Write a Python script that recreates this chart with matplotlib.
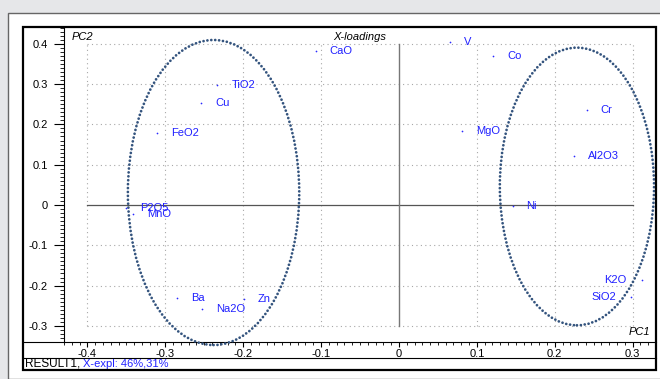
import numpy as np
import matplotlib.pyplot as plt
from matplotlib.patches import Ellipse, Rectangle
from matplotlib.lines import Line2D
from matplotlib.ticker import MultipleLocator

plt.rcParams['font.family'] = ['Liberation Sans', 'DejaVu Sans']

# loadings
names = ['TiO2', 'Cu', 'FeO2', 'CaO', 'V', 'Co', 'Cr', 'MgO', 'Al2O3', 'Ni',
         'K2O', 'SiO2', 'P2O5', 'MnO', 'Ba', 'Na2O', 'Zn']
pc1 = [-0.233, -0.254, -0.310, -0.107, 0.065, 0.121, 0.241, 0.081, 0.225, 0.146,
       0.312, 0.298, -0.350, -0.341, -0.285, -0.253, -0.199]
pc2 = [0.298, 0.254, 0.179, 0.382, 0.405, 0.370, 0.236, 0.184, 0.122, -0.003,
       -0.186, -0.229, -0.008, -0.022, -0.232, -0.258, -0.234]
left_side = ['K2O', 'SiO2']

x_ticks = [-0.4, -0.3, -0.2, -0.1, 0, 0.1, 0.2, 0.3]
y_ticks = [-0.3, -0.2, -0.1, 0, 0.1, 0.2, 0.3, 0.4]

# groups (center x, center y, width, height)
groups = [(-0.238, 0.031, 0.220, 0.757), (0.2285, 0.046, 0.198, 0.689)]

W, H = 660, 379
fig = plt.figure(figsize=(6.6, 3.79), dpi=100)
fig.patch.set_facecolor('#e6e7e9')

def fx(px):
    return px / W

def fy(py):
    return 1 - py / H

# white panel and frame
fig.add_artist(Rectangle((fx(8), 0), 1, fy(13), transform=fig.transFigure,
                         facecolor='white', edgecolor='#666666', lw=1, zorder=-5))
fig.add_artist(Rectangle((fx(23), fy(370)), fx(656) - fx(23), fy(27) - fy(370),
                         transform=fig.transFigure, facecolor='none',
                         edgecolor='black', lw=1.6, zorder=5))
fig.add_artist(Line2D([fx(23), fx(656)], [fy(358), fy(358)], transform=fig.transFigure,
                      color='black', lw=0.8))
fig.add_artist(Line2D([fx(23), fx(64)], [fy(342), fy(342)], transform=fig.transFigure,
                      color='black', lw=0.8))

ax = fig.add_axes([fx(64), fy(342), fx(656) - fx(64), fy(27) - fy(342)])
ax.set_facecolor('white')
ax.set_xlim(-0.43, 0.33)
ax.set_ylim(-0.34, 0.4417)
for s in ['top', 'right']:
    ax.spines[s].set_visible(False)
for s in ['left', 'bottom']:
    ax.spines[s].set_linewidth(0.8)

ax.set_xticks(x_ticks)
ax.set_xticklabels([('%g' % v) if v != 0 else '0' for v in x_ticks])
ax.set_yticks(y_ticks)
ax.set_yticklabels([('%g' % v) if v != 0 else '0' for v in y_ticks])
ax.xaxis.set_minor_locator(MultipleLocator(0.01))
ax.yaxis.set_minor_locator(MultipleLocator(0.01))
ax.tick_params(axis='y', which='major', length=7.5, width=0.8, pad=4, labelsize=8)
ax.tick_params(axis='y', which='minor', length=3, width=0.6)
ax.tick_params(axis='x', which='major', length=3.5, width=0.8, pad=1.5, labelsize=8)
ax.tick_params(axis='x', which='minor', length=1.8, width=0.6)

# grid restricted to the tick range
for v in x_ticks:
    if v != 0:
        ax.plot([v, v], [y_ticks[0], y_ticks[-1]], color='#a8a8a8', lw=0.8,
                ls=(0, (1, 3)), zorder=1)
for v in y_ticks:
    if v != 0:
        ax.plot([x_ticks[0], x_ticks[-1]], [v, v], color='#a8a8a8', lw=0.8,
                ls=(0, (1, 3)), zorder=1)
ax.plot([x_ticks[0], x_ticks[-1]], [0, 0], color='#555555', lw=0.9, zorder=2)
ax.plot([0, 0], [y_ticks[0], y_ticks[-1]], color='#777777', lw=1.0, zorder=2)

for cx, cy, w, h in groups:
    ax.add_patch(Ellipse((cx, cy), w, h, facecolor='none', edgecolor='#34547e',
                         lw=2.0, linestyle=(0, (0.01, 1.4)), capstyle='round',
                         clip_on=False, zorder=3))

ax.scatter(pc1, pc2, s=1.5, color='#2a2aff', zorder=4, linewidths=0)
for n, x, y in zip(names, pc1, pc2):
    if n in left_side:
        ax.annotate(n, (x, y), xytext=(-11, 0), textcoords='offset points',
                    ha='right', va='center', fontsize=8, color='#2020ff')
    else:
        ax.annotate(n, (x, y), xytext=(10, 0), textcoords='offset points',
                    ha='left', va='center', fontsize=8, color='#2020ff')

ax.text(0.0135, 0.985, 'PC2', transform=ax.transAxes, style='italic',
        fontsize=8, ha='left', va='top')
ax.text(0.5, 0.985, 'X-loadings', transform=ax.transAxes, style='italic',
        fontsize=8, ha='center', va='top')
ax.text(0.99, 0.015, 'PC1', transform=ax.transAxes, style='italic',
        fontsize=8, ha='right', va='bottom')

t = fig.text(fx(25), fy(364), 'RESULT1,', fontsize=8.5, ha='left', va='center')
fig.canvas.draw()
bb = t.get_window_extent()
fig.text(bb.x1 / W + fx(3), fy(364), 'X-expl: 46%,31%', fontsize=8,
         ha='left', va='center', color='#2020ff')

fig.savefig('out.png', dpi=100, facecolor=fig.get_facecolor())
